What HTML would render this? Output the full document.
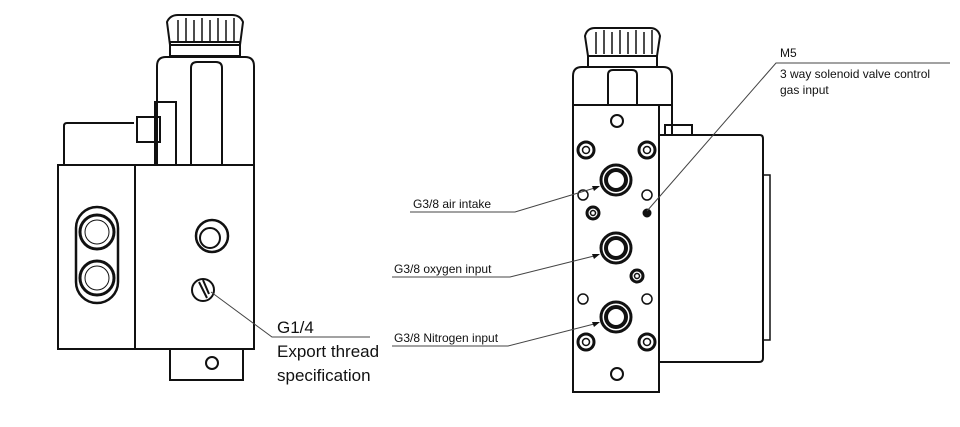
<!DOCTYPE html>
<html><head><meta charset="utf-8"><style>
html,body{margin:0;padding:0;background:#fff;}
svg{display:block;}
text{font-family:"Liberation Sans",sans-serif;fill:#111;}
</style></head><body>
<svg width="960" height="427" viewBox="0 0 960 427" xmlns="http://www.w3.org/2000/svg">
<g fill="none" stroke="#111" stroke-width="2">
<!-- LEFT DRAWING -->
<!-- knob -->
<path d="M170 45 L167 22 Q170 15 178 15 L232 15 Q240 15 243 22 L240 45 Z" fill="#fff"/>
<path d="M178 20 V42 M186 18 V42 M194 20 V42 M202 18 V42 M210 20 V42 M218 18 V42 M226 20 V42 M234 18 V42" stroke-width="1.5"/>
<rect x="170" y="42" width="70" height="14"/>
<!-- coil body -->
<path d="M157 165 V66 Q157 57 166 57 H245 Q254 57 254 66 V165"/>
<path d="M191 165 V68 Q191 62 197 62 H216 Q222 62 222 68 V165"/>
<!-- bracket -->
<rect x="155" y="102" width="21" height="63"/>
<rect x="137" y="117" width="23" height="25"/>
<!-- back box -->
<path d="M64 165 V126 Q64 123 67 123 H134"/>
<!-- lower blocks -->
<rect x="58" y="165" width="77" height="184"/>
<rect x="135" y="165" width="119" height="184"/>
<rect x="170" y="349" width="73" height="31"/>
<circle cx="212" cy="363" r="6"/>
<!-- connectors -->
<rect x="76" y="207" width="42" height="96" rx="21" stroke-width="2.5"/>
<circle cx="97" cy="232" r="17" stroke-width="3"/>
<circle cx="97" cy="232" r="12" stroke-width="1"/>
<circle cx="97" cy="278" r="17" stroke-width="3"/>
<circle cx="97" cy="278" r="12" stroke-width="1"/>
<!-- port -->
<circle cx="212" cy="236" r="16" stroke-width="2.5"/>
<circle cx="210" cy="238" r="10"/>
<circle cx="203" cy="290" r="11"/>
<path d="M199 282 L207 298 M203 280 L209 294" stroke-width="2"/>

<!-- RIGHT DRAWING -->
<path d="M588 56 L585 36 Q587 28 595 28 L650 28 Q658 28 660 36 L657 56 Z" fill="#fff"/>
<path d="M596 32 V54 M604 30 V54 M612 32 V54 M620 30 V54 M628 32 V54 M636 30 V54 M644 32 V54 M652 30 V54" stroke-width="1.5"/>
<rect x="588" y="56" width="69" height="11"/>
<path d="M573 105 V76 Q573 67 582 67 H663 Q672 67 672 76 V105"/>
<path d="M608 105 V75 Q608 70 613 70 H632 Q637 70 637 75 V105"/>
<rect x="659" y="105" width="13" height="30"/>
<rect x="665" y="125" width="27" height="10"/>
<!-- side box -->
<path d="M659 135 H760 Q763 135 763 139 V358 Q763 362 759 362 H659"/>
<rect x="763" y="175" width="7" height="165" stroke-width="1.5"/>
<!-- plate -->
<rect x="573" y="105" width="86" height="287" fill="#fff"/>
<circle cx="617" cy="121" r="6"/>
<circle cx="617" cy="374" r="6"/>
<g stroke-width="3">
<circle cx="586" cy="150" r="8"/><circle cx="647" cy="150" r="8"/>
<circle cx="586" cy="342" r="8"/><circle cx="647" cy="342" r="8"/>
<circle cx="616" cy="180" r="15"/><circle cx="616" cy="248" r="15"/><circle cx="616" cy="317" r="15"/>
<circle cx="593" cy="213" r="6"/><circle cx="637" cy="276" r="6"/>
</g>
<g stroke-width="1.5">
<circle cx="586" cy="150" r="3.5"/><circle cx="647" cy="150" r="3.5"/>
<circle cx="586" cy="342" r="3.5"/><circle cx="647" cy="342" r="3.5"/>
<circle cx="616" cy="180" r="10" stroke-width="4"/><circle cx="616" cy="248" r="10" stroke-width="4"/><circle cx="616" cy="317" r="10" stroke-width="4"/>
<circle cx="593" cy="213" r="2.5"/><circle cx="637" cy="276" r="2.5"/>
<circle cx="583" cy="195" r="5"/><circle cx="647" cy="195" r="5"/>
<circle cx="583" cy="299" r="5"/><circle cx="647" cy="299" r="5"/>
</g>
<circle cx="647" cy="213" r="3.5" fill="#111"/>
</g>
<!-- leader lines -->
<g stroke="#444" stroke-width="1" fill="none">
<path d="M211 292 L272 337 H370"/>
<path d="M647 211 L776 63 H950"/>
<path d="M410 212 H515 L598 187"/>
<path d="M392 277 H510 L598 255"/>
<path d="M392 346 H508 L598 323"/>
</g>
<g fill="#111">
<path d="M600 186 L592 186 L594 191 Z"/>
<path d="M600 254 L592 254 L594 259 Z"/>
<path d="M600 322 L592 322 L594 327 Z"/>
</g>
<!-- labels -->
<text x="277" y="333" font-size="17">G1/4</text>
<text x="277" y="357" font-size="17">Export thread</text>
<text x="277" y="381" font-size="17">specification</text>
<text x="780" y="57" font-size="12">M5</text>
<text x="780" y="78" font-size="12">3 way solenoid valve control</text>
<text x="780" y="94" font-size="12">gas input</text>
<text x="413" y="208" font-size="12">G3/8 air intake</text>
<text x="394" y="273" font-size="12">G3/8 oxygen input</text>
<text x="394" y="342" font-size="12">G3/8 Nitrogen input</text>
</svg>
</body></html>
